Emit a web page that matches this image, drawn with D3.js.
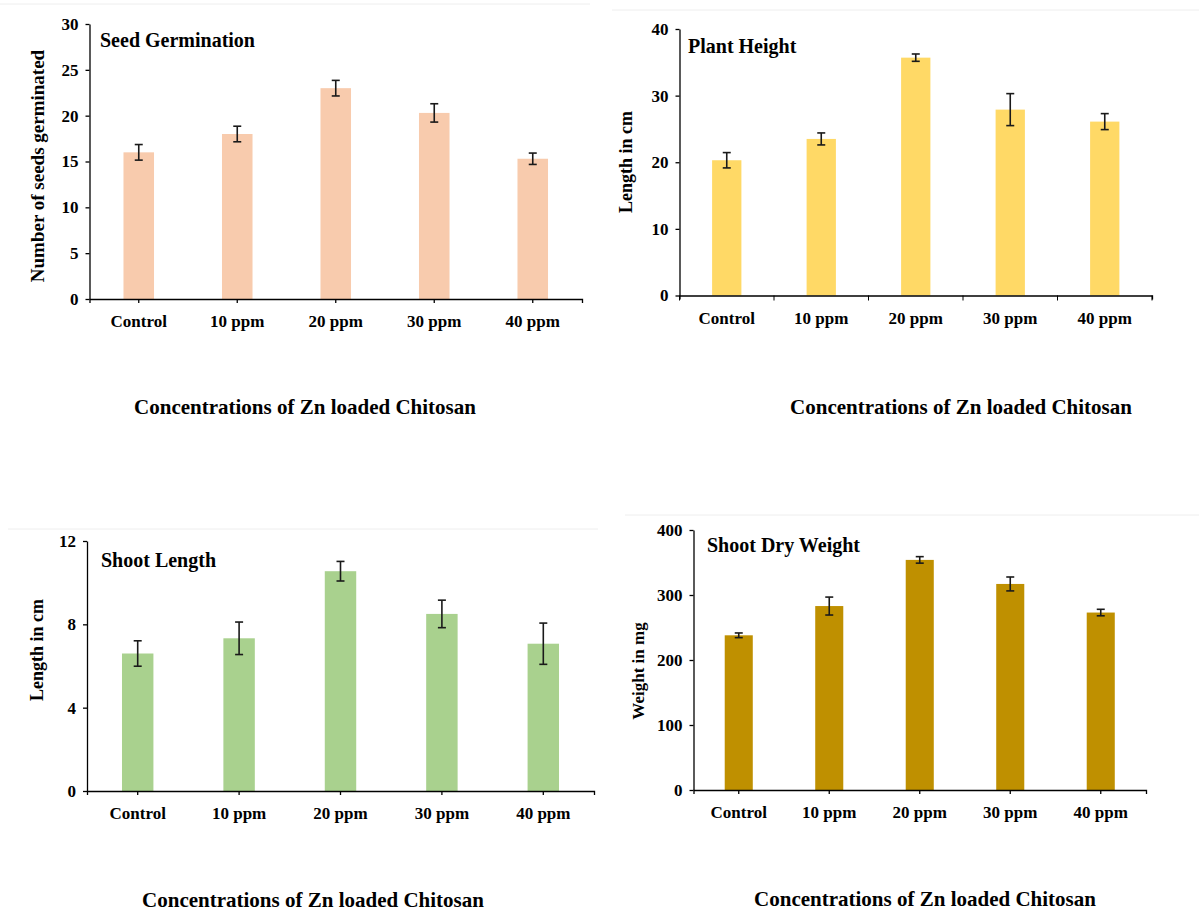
<!DOCTYPE html>
<html>
<head>
<meta charset="utf-8">
<script src="https://cdn.jsdelivr.net/npm/d3@7"></script>
<style>
  body { margin: 0; background: #fff; }
  svg text { font-family: 'Liberation Serif', 'Times New Roman', serif; font-weight: bold; fill: #000; }
</style>
</head>
<body>
<svg id="chart" width="1199" height="915"></svg>
<script>
const categories = ['Control', '10 ppm', '20 ppm', '30 ppm', '40 ppm'];

const seedValues = [16.0, 18.0, 23.0, 20.3, 15.3];
const seedErrors = [0.85, 0.85, 0.85, 1.0, 0.62];
const seedTicks = [0, 5, 10, 15, 20, 25, 30];

const heightValues = [20.3, 23.5, 35.7, 27.9, 26.1];
const heightErrors = [1.15, 0.9, 0.55, 2.4, 1.2];
const heightTicks = [0, 10, 20, 30, 40];

const shootValues = [6.6, 7.33, 10.55, 8.5, 7.07];
const shootErrors = [0.61, 0.78, 0.47, 0.66, 0.99];
const shootTicks = [0, 4, 8, 12];

const weightValues = [238, 283, 354, 317, 273];
const weightErrors = [3.6, 13.8, 5, 10.7, 5];
const weightTicks = [0, 100, 200, 300, 400];

const xTitle = 'Concentrations of Zn loaded Chitosan';

const svg = d3.select('#chart');

// faint scan borders at the top of each panel
const borders = [[0, 590, 4], [612, 1199, 10], [8, 598, 529], [625, 1199, 515]];
borders.forEach(b => {
  svg.append('line')
    .attr('x1', b[0]).attr('x2', b[1]).attr('y1', b[2]).attr('y2', b[2])
    .style('stroke', '#eeeeee').style('stroke-width', 1);
});

function drawPanel(p) {
  const x = d3.scaleBand()
    .domain(categories)
    .range([p.left, p.right])
    .paddingInner(0.69)
    .paddingOuter(0.345);

  const y = d3.scaleLinear()
    .domain([0, p.ticks[p.ticks.length - 1]])
    .range([p.bottom, p.top]);

  const g = svg.append('g');

  // bars
  g.selectAll('.bar')
    .data(p.values)
    .enter()
    .append('rect')
    .attr('class', 'bar')
    .attr('x', (d, i) => x(categories[i]))
    .attr('y', d => y(d))
    .attr('width', x.bandwidth())
    .attr('height', d => y(0) - y(d))
    .attr('fill', p.color);

  // error bars
  const cap = 4;
  p.values.forEach((v, i) => {
    const cx = x(categories[i]) + x.bandwidth() / 2;
    const e = p.errors[i];
    const eb = g.append('g').style('stroke', '#1a1a1a').style('stroke-width', 1.6);
    eb.append('line').attr('x1', cx).attr('x2', cx).attr('y1', y(v + e)).attr('y2', y(v - e));
    eb.append('line').attr('x1', cx - cap).attr('x2', cx + cap).attr('y1', y(v + e)).attr('y2', y(v + e));
    eb.append('line').attr('x1', cx - cap).attr('x2', cx + cap).attr('y1', y(v - e)).attr('y2', y(v - e));
  });

  // y axis
  const yAxis = g.append('g')
    .attr('transform', `translate(${p.left},0)`)
    .call(d3.axisLeft(y).tickValues(p.ticks).tickSize(4).tickSizeOuter(0).tickPadding(7));
  yAxis.selectAll('text').style('font-size', '17px');

  // x axis
  const xAxis = g.append('g')
    .attr('transform', `translate(0,${p.bottom})`)
    .call(d3.axisBottom(x)
      .tickSize(p.between ? 0 : 4)
      .tickSizeOuter(4)
      .tickPadding(p.between ? 16 : 12));
  xAxis.selectAll('text').style('font-size', '17px');
  if (p.between) {
    xAxis.selectAll('.between')
      .data(d3.range(categories.length + 1))
      .enter()
      .append('line')
      .attr('x1', i => p.left + i * x.step())
      .attr('x2', i => p.left + i * x.step())
      .attr('y1', 0)
      .attr('y2', 5)
      .style('stroke', '#000');
  }
  g.selectAll('.domain, .tick line').style('stroke', '#000').style('stroke-width', 1.3);

  // title inside plot
  g.append('text')
    .attr('x', p.titleX)
    .attr('y', p.titleY)
    .style('font-size', '20px')
    .text(p.title);

  // y label
  g.append('text')
    .attr('transform', `translate(${p.ylabelX},${p.ylabelY}) rotate(-90)`)
    .attr('text-anchor', 'middle')
    .attr('dy', '0.35em')
    .style('font-size', p.ylabelSize + 'px')
    .text(p.ylabel);

  // x title
  g.append('text')
    .attr('x', p.xTitleX)
    .attr('y', p.xTitleY)
    .attr('text-anchor', 'middle')
    .style('font-size', '21px')
    .text(xTitle);
}

drawPanel({
  values: seedValues, errors: seedErrors, ticks: seedTicks, color: '#F8CBAD',
  left: 89.5, right: 582, top: 24, bottom: 299, between: false,
  title: 'Seed Germination', titleX: 100, titleY: 47,
  ylabel: 'Number of seeds germinated', ylabelX: 37, ylabelY: 166, ylabelSize: 19,
  xTitleX: 305, xTitleY: 414
});

drawPanel({
  values: heightValues, errors: heightErrors, ticks: heightTicks, color: '#FFD966',
  left: 679.5, right: 1152, top: 29, bottom: 295.5, between: true,
  title: 'Plant Height', titleX: 688, titleY: 53,
  ylabel: 'Length in cm', ylabelX: 626, ylabelY: 162, ylabelSize: 18,
  xTitleX: 961, xTitleY: 414
});

drawPanel({
  values: shootValues, errors: shootErrors, ticks: shootTicks, color: '#A9D18E',
  left: 87, right: 594, top: 541, bottom: 791, between: false,
  title: 'Shoot Length', titleX: 101, titleY: 567,
  ylabel: 'Length in cm', ylabelX: 37, ylabelY: 650, ylabelSize: 18,
  xTitleX: 313, xTitleY: 907
});

drawPanel({
  values: weightValues, errors: weightErrors, ticks: weightTicks, color: '#BF9000',
  left: 693.5, right: 1146, top: 530, bottom: 790, between: false,
  title: 'Shoot Dry Weight', titleX: 707, titleY: 552,
  ylabel: 'Weight in mg', ylabelX: 638, ylabelY: 671, ylabelSize: 17,
  xTitleX: 925, xTitleY: 906
});
</script>
</body>
</html>
